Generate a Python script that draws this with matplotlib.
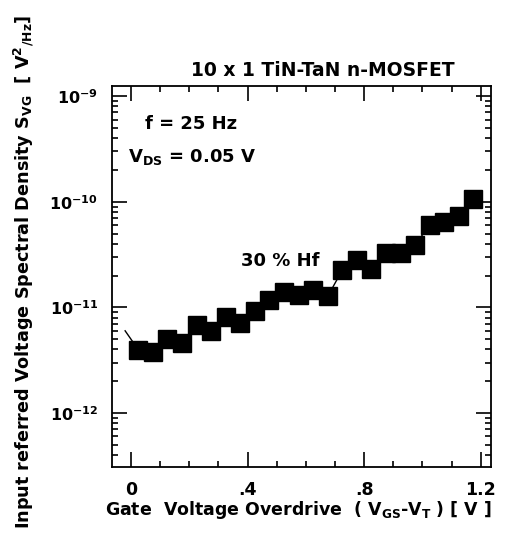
import numpy as np
import matplotlib
matplotlib.use('Agg')
from matplotlib import pyplot as plt
from matplotlib.ticker import LogLocator, MultipleLocator, NullFormatter

plt.rcParams['font.family'] = ['DejaVu Sans']
plt.rcParams['font.weight'] = 'bold'
plt.rcParams['mathtext.fontset'] = 'custom'
plt.rcParams['mathtext.rm'] = 'DejaVu Sans:bold'
plt.rcParams['mathtext.it'] = 'DejaVu Sans:bold'
plt.rcParams['mathtext.bf'] = 'DejaVu Sans:bold'

# gate overdrive (V) and input referred noise S_VG (V^2/Hz)
vov = [0.025, 0.075, 0.125, 0.175, 0.225, 0.275, 0.325, 0.375,
       0.425, 0.475, 0.525, 0.575, 0.625, 0.675, 0.725, 0.775,
       0.825, 0.875, 0.925, 0.975, 1.025, 1.075, 1.125, 1.175]
svg = [3.98e-12, 3.79e-12, 4.97e-12, 4.60e-12, 6.81e-12, 5.98e-12,
       8.11e-12, 7.11e-12, 9.2e-12, 1.17e-11, 1.40e-11, 1.32e-11,
       1.46e-11, 1.27e-11, 2.26e-11, 2.8e-11, 2.29e-11, 3.30e-11,
       3.30e-11, 3.89e-11, 6.08e-11, 6.45e-11, 7.4e-11, 1.07e-10]
# leading piece of the connecting line
lead_x = [-0.02, 0.025]
lead_y = [6.0e-12, 3.98e-12]

xticks = [0, 0.4, 0.8, 1.2]
xticklabels = ['0', '.4', '.8', '1.2']

fig = plt.figure(figsize=(5.08, 5.45), dpi=100)
ax = fig.add_axes([0.2205, 0.1431, 0.746, 0.699])

ax.plot(lead_x, lead_y, color='black', lw=1)
ax.plot(vov, svg, color='black', lw=1, marker='s', ms=12.3,
        mfc='black', mec='black')

ax.set_yscale('log')
ax.set_xlim(-0.065, 1.235)
ax.set_ylim(10**-12.511, 10**-8.905)

ax.set_xticks(xticks)
ax.set_xticklabels(xticklabels)
ax.xaxis.set_minor_locator(MultipleLocator(0.1))
ax.yaxis.set_major_locator(LogLocator(base=10, numticks=10))
ax.yaxis.set_minor_locator(LogLocator(base=10, subs=np.arange(2, 10), numticks=10))
ax.yaxis.set_minor_formatter(NullFormatter())

ax.tick_params(which='both', direction='in', top=True, right=True,
               labelsize=12.5, width=1.2)
ax.tick_params(axis='y', labelsize=11.5)
ax.tick_params(which='major', length=10.8)
ax.tick_params(axis='x', which='major', pad=10)
ax.tick_params(axis='y', which='major', pad=10)
ax.tick_params(which='minor', length=4.5)
for s in ax.spines.values():
    s.set_linewidth(1.3)

ax.set_xlabel(r'Gate  Voltage Overdrive  ( V$_{GS}$-V$_{T}$ ) [ V ]',
              fontsize=12.5, fontweight='bold')
ax.xaxis.set_label_coords(0.493, -0.085)
ax.set_ylabel(r'Input referred Voltage Spectral Density S$_{VG}$  [ V$^{2}$$_{/Hz}$]',
              fontsize=12.7, fontweight='bold')
ax.yaxis.set_label_coords(-0.2, 0.512)

fig.text(323 / 508, 1 - 70 / 545, '10 x 1 TiN-TaN n-MOSFET', ha='center',
         va='center', fontsize=13.5, fontweight='bold')
ax.text(0.087, 0.9, 'f = 25 Hz', transform=ax.transAxes, ha='left',
        va='center', fontsize=13, fontweight='bold')
ax.text(0.042, 0.815, r'V$_{DS}$ = 0.05 V', transform=ax.transAxes, ha='left',
        va='center', fontsize=13, fontweight='bold')
ax.text(0.443, 0.54, '30 % Hf', transform=ax.transAxes, ha='center',
        va='center', fontsize=13, fontweight='bold')

fig.savefig('out.png', dpi=100)
